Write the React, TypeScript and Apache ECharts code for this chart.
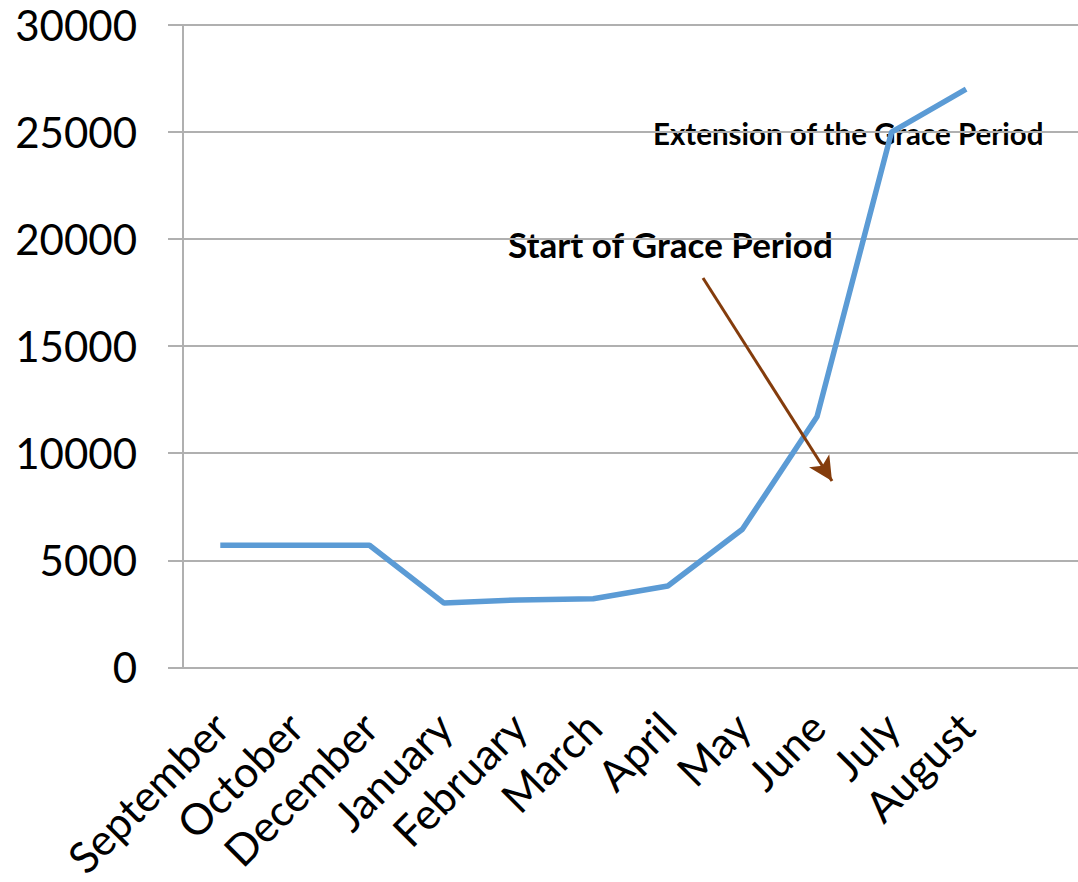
import React, { useEffect, useRef } from "react";
import * as echarts from "echarts";

const months = ["September", "October", "December", "January", "February", "March", "April", "May", "June", "July", "August", ""];
const visitors = [5700, 5700, 5700, 3000, 3150, 3200, 3800, 6450, 11700, 25000, 27000, null];
const yTicks = { min: 0, max: 30000, interval: 5000 };
const annotations = ["Start of Grace Period", "Extension of the Grace Period"];

const FONT = "Lato, 'Open Sans', sans-serif";

export default function App() {
  const ref = useRef<HTMLDivElement>(null);
  useEffect(() => {
    if (!ref.current) return;
    const chart = echarts.init(ref.current, null, { renderer: "svg" });
    chart.setOption({
      animation: false,
      backgroundColor: "#ffffff",
      grid: { left: 183, right: 0, top: 25, bottom: 214, containLabel: false },
      xAxis: {
        type: "category",
        data: months,
        boundaryGap: true,
        axisLine: { show: true, lineStyle: { color: "#b0b0b0", width: 2 } },
        axisTick: { show: false },
        axisLabel: { rotate: 45, margin: 52, fontSize: 43, color: "#000", fontFamily: FONT, interval: 0 },
        splitLine: { show: false },
      },
      yAxis: {
        type: "value",
        min: yTicks.min,
        max: yTicks.max,
        interval: yTicks.interval,
        axisLine: { show: true, lineStyle: { color: "#b0b0b0", width: 2 } },
        axisTick: { show: true, length: 15, lineStyle: { color: "#b0b0b0", width: 2 } },
        axisLabel: { margin: 46, fontSize: 42, color: "#000", fontFamily: FONT, formatter: (v: number) => String(v) },
        splitLine: { show: true, lineStyle: { color: "#b0b0b0", width: 2 } },
      },
      series: [
        {
          type: "line",
          data: visitors,
          symbol: "none",
          lineStyle: { color: "#5B9BD5", width: 5.5 },
          markLine: {
            silent: true,
            symbol: ["none", "arrow"],
            symbolSize: [18, 24],
            label: { show: false },
            lineStyle: { color: "#843C0C", width: 3, type: "solid" },
            data: [[{ x: 703, y: 278 }, { x: 832, y: 481 }]],
          },
        },
      ],
      graphic: [
        {
          type: "text",
          left: 508,
          top: 226,
          style: { text: annotations[0], font: `bold 35px ${FONT}`, fill: "#000" },
        },
        {
          type: "text",
          left: 653,
          top: 118,
          style: { text: annotations[1], font: `bold 29.5px ${FONT}`, fill: "#000" },
        },
      ],
    });
    return () => chart.dispose();
  }, []);
  return <div ref={ref} style={{ width: 1078, height: 882, position: "absolute", left: 0, top: 0 }} />;
}
